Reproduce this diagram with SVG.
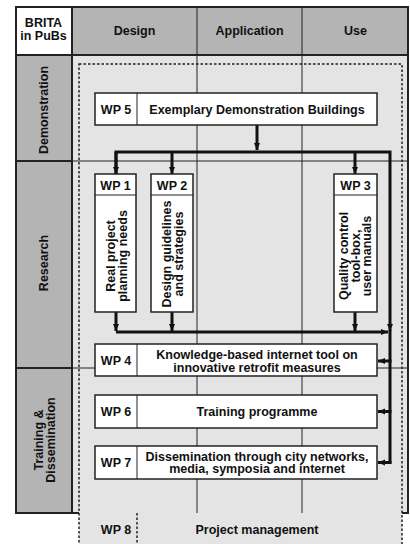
<svg xmlns="http://www.w3.org/2000/svg" width="410" height="544" viewBox="0 0 410 544">
<style>
text{font-family:"Liberation Sans",Arial,sans-serif;font-weight:bold;font-size:12.5px;fill:#111;text-anchor:middle}
.hd{fill:#b4b4b4}
.body{fill:#e4e4e4}
.thin{stroke:#222;stroke-width:1;fill:none}
.thick{stroke:#222;stroke-width:2;fill:none}
.dash{stroke:#222;stroke-width:1.5;stroke-dasharray:2.5,2;fill:none}
.box{fill:#fff;stroke:#222;stroke-width:1.5}
.arr{stroke:#111;stroke-width:3;fill:none}
</style>
<defs>
<marker id="ah" viewBox="0 0 8 8" refX="7" refY="4" markerWidth="8" markerHeight="8" markerUnits="userSpaceOnUse" orient="auto">
<path d="M0,1 L7,4 L0,7 z" fill="#111"/>
</marker>
</defs>

<g id="table">
<rect x="79" y="513" width="323" height="31" class="body"/>
<rect x="15" y="6" width="394" height="507" class="body"/>
<rect x="15" y="6" width="57" height="49" fill="#fff"/>
<rect x="72" y="6" width="337" height="49" class="hd"/>
<rect x="15" y="55" width="57" height="458" class="hd"/>
<line x1="197" y1="6" x2="197" y2="513" class="thin"/>
<line x1="302" y1="6" x2="302" y2="513" class="thin"/>
<line x1="15" y1="161" x2="409" y2="161" class="thin"/>
<line x1="15" y1="368" x2="409" y2="368" class="thin"/>
<line x1="15" y1="161" x2="72" y2="161" class="thick"/>
<line x1="15" y1="368" x2="72" y2="368" class="thick"/>
<line x1="72" y1="6" x2="72" y2="513" class="thick"/>
<line x1="15" y1="55" x2="409" y2="55" class="thick"/>
<path d="M79,513 H16 V7 H408 V513 H402" class="thick"/>
<rect x="79" y="64" width="323" height="490" class="dash"/>
<text x="43.5" y="27" font-size="11.5">BRITA</text>
<text x="43.5" y="39.5" font-size="11.5">in PuBs</text>
<text x="134.5" y="35">Design</text>
<text x="249.5" y="35">Application</text>
<text x="355.5" y="35">Use</text>
<text transform="translate(43,110) rotate(-90)" y="4.5">Demonstration</text>
<text transform="translate(43,263) rotate(-90)" y="4.5">Research</text>
<text transform="translate(44,440) rotate(-90)" y="-1.5">Training &amp;</text>
<text transform="translate(44,440) rotate(-90)" y="10.5">Dissemination</text>
</g>

<g id="connectors">
<line x1="257" y1="125" x2="257" y2="150" class="arr" marker-end="url(#ah)"/>
<path d="M116,174 V152 H390 V331" class="arr" marker-end="url(#ah)"/>
<line x1="116" y1="152" x2="116" y2="174" class="arr" marker-end="url(#ah)"/>
<line x1="172" y1="152" x2="172" y2="174" class="arr" marker-end="url(#ah)"/>
<line x1="355" y1="152" x2="355" y2="174" class="arr" marker-end="url(#ah)"/>
<line x1="116" y1="312" x2="116" y2="331" class="arr" marker-end="url(#ah)"/>
<line x1="172" y1="312" x2="172" y2="331" class="arr" marker-end="url(#ah)"/>
<line x1="355" y1="312" x2="355" y2="331" class="arr" marker-end="url(#ah)"/>
<line x1="116" y1="332" x2="388" y2="332" class="arr" marker-end="url(#ah)"/>
<line x1="390" y1="330" x2="390" y2="463.5" class="arr"/>
<line x1="391.5" y1="361" x2="378" y2="361" class="arr" marker-end="url(#ah)"/>
<line x1="391.5" y1="411.5" x2="378" y2="411.5" class="arr" marker-end="url(#ah)"/>
<line x1="391.5" y1="462.5" x2="378" y2="462.5" class="arr" marker-end="url(#ah)"/>
</g>

<g id="wp5">
<rect x="95" y="93" width="282" height="32" class="box"/>
<line x1="137" y1="93" x2="137" y2="125" class="thin"/>
<text x="116" y="113.5">WP 5</text>
<text x="257" y="113.5">Exemplary Demonstration Buildings</text>
</g>

<g id="wp1">
<rect x="95" y="174" width="41" height="138" class="box"/>
<line x1="95" y1="195" x2="136" y2="195" class="thin"/>
<text x="115.5" y="189.5">WP 1</text>
<text transform="translate(116,256) rotate(-90)" y="-1.5">Real project</text>
<text transform="translate(116,256) rotate(-90)" y="10.5">planning needs</text>
</g>

<g id="wp2">
<rect x="151" y="174" width="42" height="138" class="box"/>
<line x1="151" y1="195" x2="193" y2="195" class="thin"/>
<text x="172" y="189.5">WP 2</text>
<text transform="translate(172,254) rotate(-90)" y="-1.5">Design guidelines</text>
<text transform="translate(172,254) rotate(-90)" y="10.5">and strategies</text>
</g>

<g id="wp3">
<rect x="334" y="174" width="43" height="138" class="box"/>
<line x1="334" y1="195" x2="377" y2="195" class="thin"/>
<text x="355.5" y="189.5">WP 3</text>
<text transform="translate(355,256) rotate(-90)" y="-7">Quality control</text>
<text transform="translate(355,256) rotate(-90)" y="4.5">tool-box,</text>
<text transform="translate(355,256) rotate(-90)" y="16">user manuals</text>
</g>

<g id="wp4">
<rect x="95" y="344" width="282" height="32" class="box"/>
<line x1="137" y1="344" x2="137" y2="376" class="thin"/>
<text x="116" y="364.5">WP 4</text>
<text x="257" y="359">Knowledge-based internet tool on</text>
<text x="257" y="372">innovative retrofit measures</text>
</g>

<g id="wp6">
<rect x="95" y="395" width="282" height="33" class="box"/>
<line x1="137" y1="395" x2="137" y2="428" class="thin"/>
<text x="116" y="416">WP 6</text>
<text x="257" y="416">Training programme</text>
</g>

<g id="wp7">
<rect x="95" y="446" width="282" height="33" class="box"/>
<line x1="137" y1="446" x2="137" y2="479" class="thin"/>
<text x="116" y="467">WP 7</text>
<text x="257" y="460.5">Dissemination through city networks,</text>
<text x="257" y="473">media, symposia and internet</text>
</g>

<g id="wp8">
<line x1="137" y1="513" x2="137" y2="544" class="dash"/>
<text x="116" y="534">WP 8</text>
<text x="257" y="534">Project management</text>
</g>
</svg>
